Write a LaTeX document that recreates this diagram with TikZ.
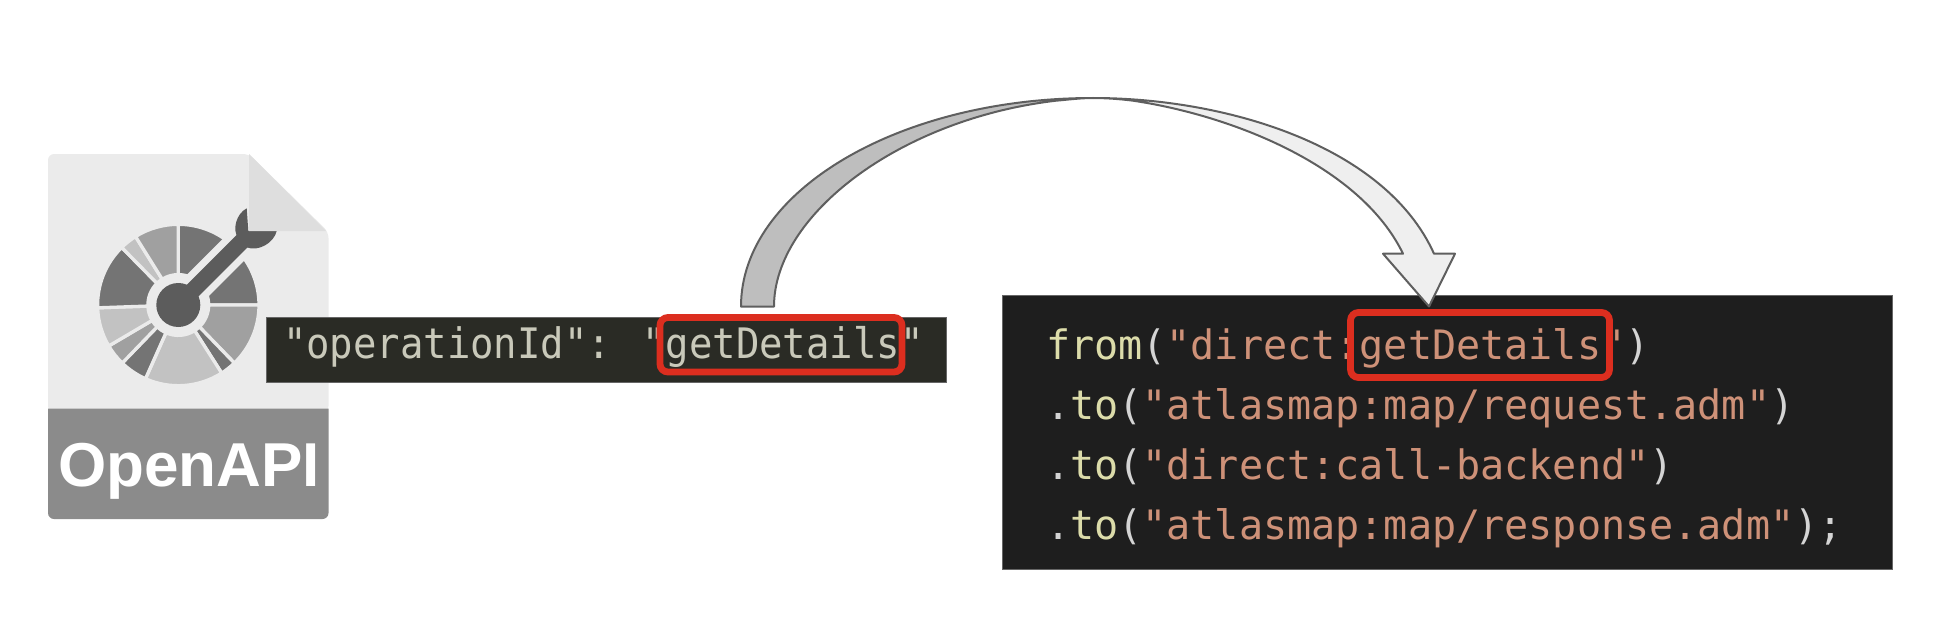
\documentclass[tikz,border=0pt]{standalone}
\usepackage{fontspec}
\setmainfont{Liberation Sans}
\newfontfamily\codeleft[FakeStretch=0.927]{DejaVu Sans Mono}
\newfontfamily\coderight[FakeStretch=0.99]{DejaVu Sans Mono}
\definecolor{iconbody}{HTML}{EBEBEB}
\definecolor{iconfold}{HTML}{DEDEDE}
\definecolor{iconband}{HTML}{8B8B8B}
\definecolor{wheeldark}{HTML}{747474}
\definecolor{wheelmid}{HTML}{A0A0A0}
\definecolor{wheellight}{HTML}{C2C2C2}
\definecolor{wrench}{HTML}{5C5C5C}
\definecolor{leftbg}{HTML}{2A2B25}
\definecolor{lefttext}{HTML}{C9C9BA}
\definecolor{rightbg}{HTML}{1E1E1E}
\definecolor{fn}{HTML}{DCDCAA}
\definecolor{str}{HTML}{CE9178}
\definecolor{pun}{HTML}{D4D4D4}
\definecolor{redbox}{HTML}{DC2E1F}
\definecolor{arrowline}{HTML}{5F5F5F}
\definecolor{arrowgrey}{HTML}{BEBEBE}
\definecolor{arrowlight}{HTML}{EFEFEF}
\tikzset{
  codebox/.style={draw=black!60,line width=.4pt},
  redmark/.style={draw=redbox,line width=3.4pt,rounded corners=4pt},
  codetext/.style={anchor=base west,inner sep=0pt,outer sep=0pt},
  arrowbody/.style={draw=arrowline,line width=1pt,line join=round},
  sector/.style={fill=#1,draw=iconbody,line width=1.65pt}
}
\newcommand{\wheelsector}[3]{%
  \path[sector=#3] (#1:15.2pt) -- (#1:40.35pt) arc[start angle=#1,end angle=#2,radius=40.35pt] -- (#2:15.2pt) arc[start angle=#2,end angle=#1,radius=15.2pt] -- cycle;}
\begin{document}
\begin{tikzpicture}[x=0.5pt,y=-0.5pt]
\useasboundingbox (0,0) rectangle (1936,642);
% OpenAPI icon
\fill[iconbody,rounded corners=3pt] (48,154) -- (249,154) -- (328.5,232) -- (328.5,412) -- (48,412) -- cycle;
\fill[iconband] (48,408.5) [rounded corners=3pt] -- (48,519) -- (328.5,519) [sharp corners] -- (328.5,408.5) -- cycle;
\begin{scope}[shift={(178.3,305)}]
  \wheelsector{90}{45}{wheeldark}
  \wheelsector{45}{0}{wheeldark}
  \wheelsector{0}{-46}{wheelmid}
  \wheelsector{-46}{-57.5}{wheeldark}
  \wheelsector{-57.5}{-114}{wheellight}
  \wheelsector{-114}{-134}{wheeldark}
  \wheelsector{-134}{-149.5}{wheelmid}
  \wheelsector{-149.5}{-178}{wheellight}
  \wheelsector{-178}{-225.5}{wheeldark}
  \wheelsector{-225.5}{-238}{wheellight}
  \wheelsector{-238}{-270}{wheelmid}
  \draw[iconbody,line width=15.3pt] (45:10pt) -- (45:42pt);
  \fill[wrench] (0,0) circle[radius=11pt];
  \draw[wrench,line width=8.2pt] (0,0) -- (45:50pt);
\end{scope}
\fill[wrench] (238.3,238.3) .. controls (232,230) and (236,214) .. (246.7,208.3) -- (248.3,231) -- (276.7,231)
   .. controls (274,243) and (258,252) .. (246.7,247.3) -- cycle;
\fill[iconfold] (249,154) -- (326,231) -- (249,231) -- cycle;
\node[anchor=base,inner sep=0pt,text=white,font=\bfseries\fontsize{31pt}{32pt}\selectfont] (openapi) at (189,486) {OpenAPI};
% left code box
\path[fill=leftbg,codebox] (266,317) rectangle (946.5,382);
\node[codetext,text=lefttext,font=\codeleft\fontsize{21pt}{24pt}\selectfont] (opid) at (283,358) {"operationId": "getDetails"};
% right code box
\path[fill=rightbg,codebox] (1002,295) rectangle (1892,569);
\node[codetext,font=\coderight\fontsize{20.25pt}{24pt}\selectfont] (line1) at (1046,359) {\textcolor{fn}{from}\textcolor{pun}{(}\textcolor{str}{"direct:getDetails"}\textcolor{pun}{)}};
\node[codetext,font=\coderight\fontsize{20.25pt}{24pt}\selectfont] (line2) at (1046,419) {\textcolor{pun}{.}\textcolor{fn}{to}\textcolor{pun}{(}\textcolor{str}{"atlasmap:map/request.adm"}\textcolor{pun}{)}};
\node[codetext,font=\coderight\fontsize{20.25pt}{24pt}\selectfont] (line3) at (1046,479.5) {\textcolor{pun}{.}\textcolor{fn}{to}\textcolor{pun}{(}\textcolor{str}{"direct:call-backend"}\textcolor{pun}{)}};
\node[codetext,font=\coderight\fontsize{20.25pt}{24pt}\selectfont] (line4) at (1046,539.5) {\textcolor{pun}{.}\textcolor{fn}{to}\textcolor{pun}{(}\textcolor{str}{"atlasmap:map/response.adm"}\textcolor{pun}{);}};
% curved block arrow
\path[fill=arrowgrey,arrowbody] (741,306.5) .. controls (741,191) and (899,98) .. (1093,98)
   .. controls (1080,98) and (1065,100) .. (1056,100.7)
   .. controls (900,119) and (774,215) .. (774,306.5) -- cycle;
\path[fill=arrowlight,arrowbody] (1093,98) .. controls (1225,98) and (1385,145) .. (1434,253.7)
   -- (1455,253.7) -- (1429,306.5) -- (1383,253.7) -- (1403,253.7)
   .. controls (1360,165) and (1230,115) .. (1133,100.7)
   .. controls (1120,99) and (1105,98) .. (1093,98) -- cycle;
% highlight frames
\draw[redmark] (660,317.5) rectangle (902,372);
\draw[redmark] (1350.5,312.5) rectangle (1609.5,377.5);
\end{tikzpicture}
\end{document}
